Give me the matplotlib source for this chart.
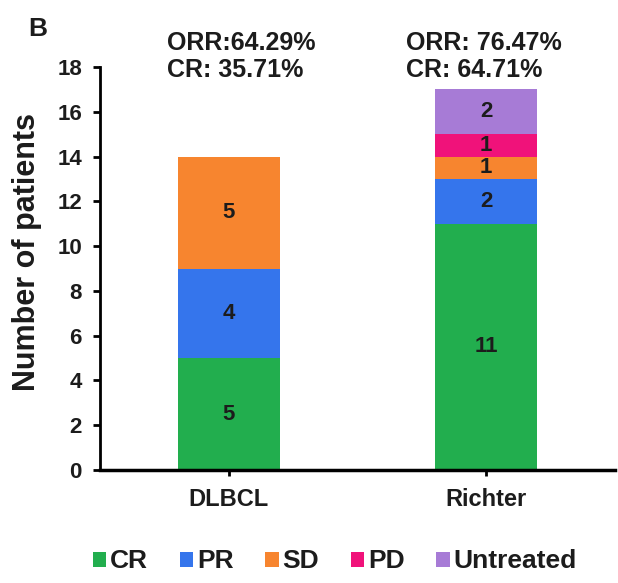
import numpy as np
import matplotlib.pyplot as plt

plt.rcParams['font.family'] = ['Liberation Sans', 'DejaVu Sans']

groups = ['DLBCL', 'Richter']
responses = ['CR', 'PR', 'SD', 'PD', 'Untreated']
cr = [5, 11]
pr = [4, 2]
sd = [5, 1]
pd_ = [0, 1]
untreated = [0, 2]
colors = ['#22AE4E', '#3575EC', '#F7852F', '#F0127A', '#A77BD6']
summary = ['ORR:64.29%\nCR: 35.71%', 'ORR: 76.47%\nCR: 64.71%']

txt = '#1c1c1c'
fig = plt.figure(figsize=(6.18, 5.83), dpi=100)
ax = fig.add_axes([0.1618, 0.1938, 0.8332, 0.6912])

x = np.arange(len(groups))
bottom = np.zeros(len(groups))
for name, vals, col in zip(responses, [cr, pr, sd, pd_, untreated], colors):
    vals = np.array(vals, dtype=float)
    ax.bar(x, vals, 0.395, bottom=bottom, color=col, label=name)
    for xi, v, b in zip(x, vals, bottom):
        if v > 0:
            ax.text(xi, b + v / 2, str(int(v)), ha='center', va='center',
                    fontsize=16, fontweight='bold', color=txt)
    bottom += vals

ax.set_xlim(-0.5, 1.5)
ax.set_ylim(0, 18)
ax.set_yticks(range(0, 19, 2))
ax.set_xticks(x)
ax.set_xticklabels(groups)
ax.spines['top'].set_visible(False)
ax.spines['right'].set_visible(False)
ax.spines['left'].set_linewidth(2)
ax.spines['bottom'].set_linewidth(2.5)
ax.tick_params(axis='y', direction='out', length=5, width=2, labelsize=16, pad=8)
ax.tick_params(axis='x', direction='out', length=4, width=2, labelsize=17, pad=9)
for lab in ax.get_xticklabels() + ax.get_yticklabels():
    lab.set_fontweight('bold')
    lab.set_color(txt)
ax.set_ylabel('Number of patients', fontsize=22, fontweight='bold', color=txt)
ax.yaxis.set_label_coords(-0.112, 0.54)

# response-rate notes above each bar
for xi, s in zip([-0.24, 0.69], summary):
    ax.text(xi, 18.49, s, ha='left', va='center', fontsize=18,
            fontweight='bold', color=txt, linespacing=1.15, clip_on=False)

fig.text(0.045, 0.95, 'B', fontsize=19, fontweight='bold', ha='left', va='center',
         color=txt)

fig.legend(*ax.get_legend_handles_labels(), loc='center', bbox_to_anchor=(0.542, 0.037),
           ncol=5, frameon=False, handlelength=0.5, handleheight=0.5,
           handletextpad=0.15, columnspacing=1.2,
           prop={'size': 19, 'weight': 'bold'}, labelcolor=txt)

fig.savefig('out.png', dpi=100)
